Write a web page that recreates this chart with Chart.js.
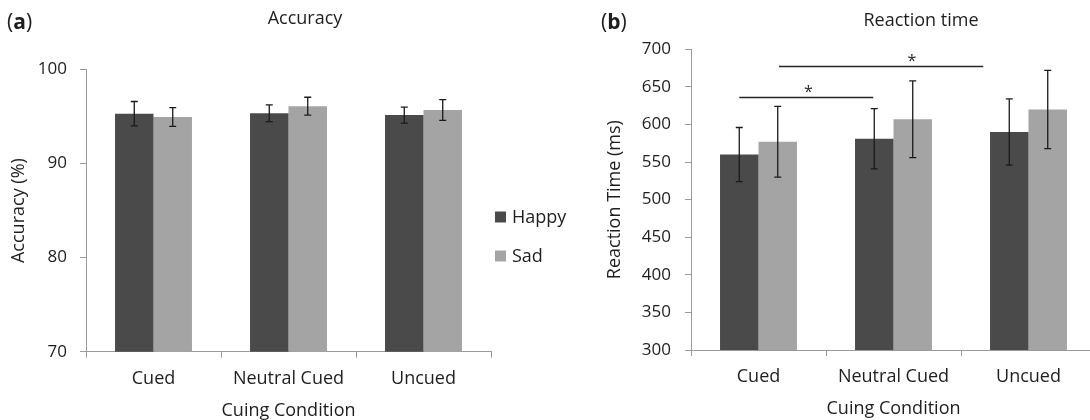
<!DOCTYPE html>
<html>
<head>
<meta charset="utf-8">
<script src="https://cdn.jsdelivr.net/npm/chart.js@4.4.1/dist/chart.umd.min.js"></script>
<style>
html, body { margin: 0; padding: 0; background: #fff; overflow: hidden; width: 1090px; height: 420px; }
#wrapA { position: absolute; left: 0; top: 0; width: 580px; height: 420px; }
#wrapB { position: absolute; left: 580px; top: 0; width: 520px; height: 420px; }
.txt { position: absolute; font-family: 'Open Sans', sans-serif; font-size: 18px; line-height: 20px; color: #1e1e1e; white-space: nowrap; }
.big { font-size: 21px; line-height: 22px; }
.ctr { transform: translateX(-50%); }
</style>
</head>
<body>
<div id="wrapA"><canvas id="chartA" width="580" height="420"></canvas></div>
<div id="wrapB"><canvas id="chartB" width="520" height="420"></canvas></div>
<div class="txt big" style="left:7px; top:10px;">(<b>a</b>)</div>
<div class="txt ctr" style="left:305px; top:7px;">Accuracy</div>
<div class="txt big" style="left:601px; top:10px;">(<b>b</b>)</div>
<div class="txt ctr" style="left:921px; top:9px;">Reaction time</div>
<script>
// ---------- data ----------
const categories = ['Cued', 'Neutral Cued', 'Uncued'];
const seriesNames = ['Happy', 'Sad'];

const accHappy = [95.3, 95.35, 95.15];
const accSad = [94.95, 96.1, 95.7];
const accHappyErr = [1.3, 0.9, 0.85];
const accSadErr = [1.0, 0.95, 1.1];
const accTicks = [70, 80, 90, 100];

const rtHappy = [560, 581, 590];
const rtSad = [577, 607, 620];
const rtHappyErr = [36, 40, 44];
const rtSadErr = [47, 51, 52];
const rtTicks = [300, 350, 400, 450, 500, 550, 600, 650, 700];

// significance brackets (category-axis positions, value-axis positions)
const sigFrom = [-0.142, 0.152];
const sigTo = [0.850, 1.665];
const sigLevel = [636, 678];
const sigStarPos = [0.370, 1.137];
const sigStarLevel = [649, 690];
const sigText = ['*', '*'];

// ---------- styling ----------
const FONT = 'Open Sans';
const TXT = '#1e1e1e';
const AXIS = '#9a9a9a';
const HAPPY_COLOR = '#4a4a4a';
const SAD_COLOR = '#a4a4a4';

const errorBarPlugin = {
  id: 'errorBars',
  afterDatasetsDraw(chart, args, opts) {
    const ctx = chart.ctx;
    const ys = chart.scales.y;
    chart.data.datasets.forEach((ds, i) => {
      const meta = chart.getDatasetMeta(i);
      meta.data.forEach((bar, j) => {
        const v = ds.data[j], e = ds.errors[j];
        const top = ys.getPixelForValue(v + e);
        const bot = ys.getPixelForValue(v - e);
        ctx.save();
        ctx.strokeStyle = opts.color;
        ctx.lineWidth = opts.width;
        ctx.beginPath();
        ctx.moveTo(bar.x, top); ctx.lineTo(bar.x, bot);
        ctx.moveTo(bar.x - opts.cap, top); ctx.lineTo(bar.x + opts.cap, top);
        ctx.moveTo(bar.x - opts.cap, bot); ctx.lineTo(bar.x + opts.cap, bot);
        ctx.stroke();
        ctx.restore();
      });
    });
  }
};

const sideLegendPlugin = {
  id: 'sideLegend',
  afterDraw(chart, args, opts) {
    if (!opts || !opts.enabled) return;
    const ctx = chart.ctx;
    ctx.save();
    chart.data.datasets.forEach((ds, i) => {
      const y = opts.y0 + i * opts.gap;
      ctx.fillStyle = ds.backgroundColor;
      ctx.fillRect(opts.x, y - opts.box / 2, opts.box, opts.box);
      ctx.fillStyle = opts.color;
      ctx.font = opts.font;
      ctx.textBaseline = 'middle';
      ctx.textAlign = 'left';
      ctx.fillText(ds.label, opts.x + opts.box + opts.textGap, y + 1);
    });
    ctx.restore();
  }
};

const sigPlugin = {
  id: 'sigBrackets',
  afterDraw(chart, args, opts) {
    if (!opts || !opts.enabled) return;
    const ctx = chart.ctx;
    const xs = chart.scales.x, ys = chart.scales.y;
    ctx.save();
    for (let k = 0; k < sigFrom.length; k++) {
      const y = Math.round(ys.getPixelForValue(sigLevel[k])) + 0.5;
      ctx.strokeStyle = opts.color;
      ctx.lineWidth = opts.width;
      ctx.beginPath();
      ctx.moveTo(xs.getPixelForValue(sigFrom[k]), y);
      ctx.lineTo(xs.getPixelForValue(sigTo[k]), y);
      ctx.stroke();
      ctx.fillStyle = opts.color;
      ctx.font = opts.font;
      ctx.textAlign = 'center';
      ctx.textBaseline = 'alphabetic';
      ctx.fillText(sigText[k], xs.getPixelForValue(sigStarPos[k]), ys.getPixelForValue(sigStarLevel[k]) + opts.starShift);
    }
    ctx.restore();
  }
};

function makeChart(canvasId, cfg) {
  return new Chart(document.getElementById(canvasId), {
    type: 'bar',
    data: {
      labels: categories,
      datasets: [
        { label: seriesNames[0], data: cfg.happy, errors: cfg.happyErr, backgroundColor: HAPPY_COLOR, borderWidth: 0 },
        { label: seriesNames[1], data: cfg.sad, errors: cfg.sadErr, backgroundColor: SAD_COLOR, borderWidth: 0 }
      ]
    },
    plugins: [errorBarPlugin, sideLegendPlugin, sigPlugin],
    options: {
      responsive: false,
      animation: false,
      events: [],
      categoryPercentage: 0.57,
      barPercentage: 1.0,
      layout: { padding: cfg.padding },
      plugins: {
        legend: { display: false },
        tooltip: { enabled: false },
        title: { display: false },
        errorBars: { color: '#1a1a1a', width: 1.3, cap: 3.5 },
        sideLegend: cfg.legend,
        sigBrackets: cfg.sig
      },
      scales: {
        x: {
          offset: true,
          grid: { display: true, drawOnChartArea: false, drawTicks: true, tickLength: 6, color: AXIS, lineWidth: 1, offset: true },
          border: { display: true, color: AXIS, width: 1 },
          ticks: { color: TXT, font: { family: FONT, size: 18 }, padding: 10, maxRotation: 0, autoSkip: false },
          title: { display: true, text: 'Cuing Condition', color: TXT, font: { family: FONT, size: 18 }, padding: { top: 0, bottom: cfg.xTitleBottom } },
          afterFit: s => { s.height = cfg.xHeight; }
        },
        y: {
          min: cfg.ticks[0],
          max: cfg.ticks[cfg.ticks.length - 1],
          afterBuildTicks: s => { s.ticks = cfg.ticks.map(v => ({ value: v })); },
          grid: { display: true, drawOnChartArea: false, drawTicks: true, tickLength: 6, color: AXIS, lineWidth: 1 },
          border: { display: true, color: AXIS, width: 1 },
          ticks: { color: TXT, font: { family: FONT, size: 17 }, padding: cfg.yTickPad },
          title: { display: true, text: cfg.yTitle, color: TXT, font: { family: FONT, size: 18 }, padding: { top: cfg.yTitleTop, bottom: 0 } },
          afterFit: s => { s.width = cfg.yWidth; }
        }
      }
    }
  });
}

makeChart('chartA', {
  happy: accHappy, sad: accSad, happyErr: accHappyErr, sadErr: accSadErr,
  ticks: accTicks,
  yTitle: 'Accuracy (%)',
  padding: { left: 0, top: 69.5, right: 89, bottom: 0 },
  yWidth: 86, xHeight: 68.3,
  yTickPad: 13, yTitleTop: 7.7, xTitleBottom: -1.5,
  legend: { enabled: true, x: 495, y0: 217, gap: 39, box: 11, textGap: 6, font: '18px "Open Sans"', color: TXT },
  sig: { enabled: false }
});

makeChart('chartB', {
  happy: rtHappy, sad: rtSad, happyErr: rtHappyErr, sadErr: rtSadErr,
  ticks: rtTicks,
  yTitle: 'Reaction Time (ms)',
  padding: { left: 0, top: 49.3, right: 4, bottom: 0 },
  yWidth: 111, xHeight: 70,
  yTickPad: 14, yTitleTop: 24, xTitleBottom: 0,
  legend: { enabled: false },
  sig: { enabled: true, color: '#262626', width: 1.5, font: '16px "Open Sans"', starShift: 9 }
});
</script>
</body>
</html>
